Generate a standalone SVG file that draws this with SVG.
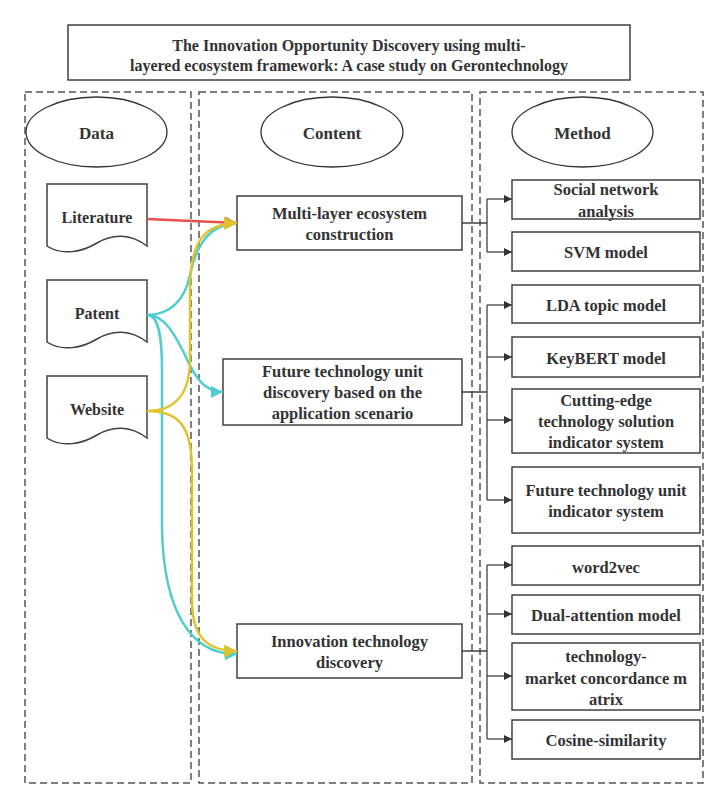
<svg xmlns="http://www.w3.org/2000/svg" width="728" height="808" viewBox="0 0 728 808">
<defs>
<style>
.lane{fill:none;stroke:#555;stroke-width:1.5;stroke-dasharray:7,4}
.box{fill:#fff;stroke:#404040;stroke-width:1.5}
.t{font-family:"Liberation Serif","Times New Roman",serif;font-weight:bold;fill:#333;text-anchor:middle;dominant-baseline:central}
.s15{font-size:16.5px}
.s14{font-size:16px}
.s16{font-size:16px}
.s17{font-size:17px}
.tree{fill:none;stroke:#404040;stroke-width:1.3}
.cy{fill:none;stroke:#4ecece;stroke-width:2.5}
.ye{fill:none;stroke:#e0c22c;stroke-width:2.5}
.re{fill:none;stroke:#e8504c;stroke-width:2.5}
</style>
<marker id="ad" viewBox="0 0 10 10" refX="10" refY="5" markerWidth="10" markerHeight="8" markerUnits="userSpaceOnUse" orient="auto"><path d="M0,0L10,5L0,10z" fill="#333"/></marker>
<marker id="ac" viewBox="0 0 10 10" refX="10" refY="5" markerWidth="14" markerHeight="12" markerUnits="userSpaceOnUse" orient="auto"><path d="M0,0L10,5L0,10z" fill="#4ecece"/></marker>
<marker id="ay" viewBox="0 0 10 10" refX="10" refY="5" markerWidth="15" markerHeight="13" markerUnits="userSpaceOnUse" orient="auto"><path d="M0,0L10,5L0,10z" fill="#e0c22c"/></marker>
<marker id="ar" viewBox="0 0 10 10" refX="10" refY="5" markerWidth="14" markerHeight="12" markerUnits="userSpaceOnUse" orient="auto"><path d="M0,0L10,5L0,10z" fill="#e8504c"/></marker>
</defs>
<rect width="728" height="808" fill="#fff"/>

<g id="title">
<rect class="box" x="68" y="25" width="562" height="55"/>
<text class="t s14" x="349" y="45">The Innovation Opportunity Discovery using multi-</text>
<text class="t s14" x="349" y="65">layered ecosystem framework: A case study on Gerontechnology</text>
</g>

<g id="lanes">
<rect class="lane" x="25" y="92" width="166" height="691"/>
<rect class="lane" x="199" y="92" width="273" height="691"/>
<rect class="lane" x="480" y="92" width="223" height="691"/>
</g>

<g id="hdr-data"><ellipse cx="96.5" cy="132" rx="70.5" ry="35" fill="#fff" stroke="#333" stroke-width="1.3"/><text class="t s17" x="96.5" y="133">Data</text></g>
<g id="hdr-content"><ellipse cx="332" cy="132" rx="71" ry="35" fill="#fff" stroke="#333" stroke-width="1.3"/><text class="t s17" x="332" y="133">Content</text></g>
<g id="hdr-method"><ellipse cx="582.5" cy="132" rx="70.5" ry="35" fill="#fff" stroke="#333" stroke-width="1.3"/><text class="t s17" x="582.5" y="133">Method</text></g>

<g id="doc-literature">
<path class="box" d="M47,184H147V246C130,233 112,234 97,243C82,252 62,256 47,246Z"/>
<text class="t s16" x="97" y="217">Literature</text>
</g>
<g id="doc-patent">
<path class="box" d="M47,280H147V342C130,329 112,330 97,339C82,348 62,352 47,342Z"/>
<text class="t s16" x="97" y="313">Patent</text>
</g>
<g id="doc-website">
<path class="box" d="M47,376H147V438C130,425 112,426 97,435C82,444 62,448 47,438Z"/>
<text class="t s16" x="97" y="409">Website</text>
</g>

<g id="c-multilayer">
<rect class="box" x="237" y="196" width="225" height="54"/>
<text class="t s15" x="349.5" y="213">Multi-layer ecosystem</text>
<text class="t s15" x="349.5" y="234">construction</text>
</g>
<g id="c-future">
<rect class="box" x="223" y="359" width="239" height="66"/>
<text class="t s15" x="342.5" y="371">Future technology unit</text>
<text class="t s15" x="342.5" y="392">discovery based on the</text>
<text class="t s15" x="342.5" y="413">application scenario</text>
</g>
<g id="c-innovation">
<rect class="box" x="237" y="624" width="225" height="54"/>
<text class="t s15" x="349.5" y="641">Innovation technology</text>
<text class="t s15" x="349.5" y="662">discovery</text>
</g>

<g id="m-sna"><rect class="box" x="512" y="180" width="188" height="39"/><text class="t s15" x="606" y="189">Social network</text><text class="t s15" x="606" y="211">analysis</text></g>
<g id="m-svm"><rect class="box" x="512" y="232" width="188" height="39"/><text class="t s15" x="606" y="252">SVM model</text></g>
<g id="m-lda"><rect class="box" x="512" y="285" width="188" height="38"/><text class="t s15" x="606" y="305">LDA topic model</text></g>
<g id="m-keybert"><rect class="box" x="512" y="337" width="188" height="40"/><text class="t s15" x="606" y="358">KeyBERT model</text></g>
<g id="m-cutting"><rect class="box" x="512" y="389" width="188" height="64"/><text class="t s15" x="606" y="400">Cutting-edge</text><text class="t s15" x="606" y="421">technology solution</text><text class="t s15" x="606" y="442">indicator system</text></g>
<g id="m-futureind"><rect class="box" x="512" y="467" width="188" height="66"/><text class="t s15" x="606" y="490">Future technology unit</text><text class="t s15" x="606" y="511">indicator system</text></g>
<g id="m-word2vec"><rect class="box" x="512" y="546" width="188" height="39"/><text class="t s15" x="606" y="567">word2vec</text></g>
<g id="m-dual"><rect class="box" x="512" y="595" width="188" height="39"/><text class="t s15" x="606" y="615">Dual-attention model</text></g>
<g id="m-tmcm"><rect class="box" x="512" y="643" width="188" height="67"/><text class="t s15" x="606" y="656">technology-</text><text class="t s15" x="606" y="678">market concordance m</text><text class="t s15" x="606" y="699">atrix</text></g>
<g id="m-cosine"><rect class="box" x="512" y="720" width="188" height="39"/><text class="t s15" x="606" y="740">Cosine-similarity</text></g>

<g id="connectors">
<path class="tree" d="M462,223H487M487,199V252"/>
<path class="tree" d="M487,199H512" marker-end="url(#ad)"/>
<path class="tree" d="M487,252H512" marker-end="url(#ad)"/>
<path class="tree" d="M462,392H487M487,305V500"/>
<path class="tree" d="M487,305H512" marker-end="url(#ad)"/>
<path class="tree" d="M487,357H512" marker-end="url(#ad)"/>
<path class="tree" d="M487,420H512" marker-end="url(#ad)"/>
<path class="tree" d="M487,500H512" marker-end="url(#ad)"/>
<path class="tree" d="M462,651H487M487,565V739"/>
<path class="tree" d="M487,565H512" marker-end="url(#ad)"/>
<path class="tree" d="M487,614H512" marker-end="url(#ad)"/>
<path class="tree" d="M487,676H512" marker-end="url(#ad)"/>
<path class="tree" d="M487,739H512" marker-end="url(#ad)"/>

<path class="re" d="M147,219L237,223" marker-end="url(#ar)"/>
<path class="cy" d="M147,315C170,315 185,300 190,275C196,245 210,224 237,223" marker-end="url(#ac)"/>
<path class="cy" d="M147,315C165,315 175,335 185,355C195,378 205,392 223,392" marker-end="url(#ac)"/>
<path class="cy" d="M147,315C157,315 162,330 162,370L162,530C164,610 190,655 237,654" marker-end="url(#ac)"/>
<path class="ye" d="M147,411C178,411 190,390 190,360L190,290C190,240 205,224 237,223" marker-end="url(#ay)"/>
<path class="ye" d="M147,411C178,411 192,425 192,470L192,600C192,638 208,651 237,651" marker-end="url(#ay)"/>
</g>
</svg>
